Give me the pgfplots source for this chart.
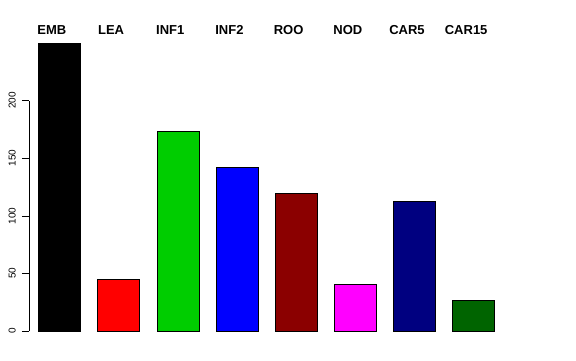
\documentclass[border=0pt]{standalone}
\usepackage{fontspec}
\setmainfont{Liberation Sans}
\usepackage{pgfplots}
\pgfplotsset{compat=1.18}
\definecolor{rgreen}{RGB}{0,205,0}
\definecolor{rdarkred}{RGB}{139,0,0}
\definecolor{rnavy}{RGB}{0,0,128}
\definecolor{rdarkgreen}{RGB}{0,100,0}
\definecolor{rmagenta}{RGB}{255,0,255}
\definecolor{rred}{RGB}{255,0,0}
\definecolor{rblue}{RGB}{0,0,255}
\begin{document}
\begin{tikzpicture}[x=1pt,y=1pt]
\useasboundingbox (0,0) rectangle (576,360);
\begin{axis}[
  at={(29pt,29pt)}, anchor=south west,
  scale only axis, width=503.9pt, height=230.4pt,
  xmin=0.4845, xmax=9, ymin=0, ymax=200,
  clip=false,
  axis x line=none, axis y line=left,
  axis line style={-, black, line width=0.6pt},
  ytick={0,50,100,150,200},
  tick align=outside, major tick length=7pt,
  tick style={black, line width=0.6pt},
  yticklabel style={xshift=-6pt, rotate=90, anchor=south, inner sep=0pt, font=\fontsize{10}{12}\selectfont},
  /pgf/number format/assume math mode=true,
  ybar, bar width=42pt, bar shift=0pt,
  every axis plot/.append style={draw=black, line width=0.5pt},
]
\addplot[fill=black] coordinates {(1,250)};
\addplot[fill=rred] coordinates {(2,45.3)};
\addplot[fill=rgreen] coordinates {(3,173.8)};
\addplot[fill=rblue] coordinates {(4,142.1)};
\addplot[fill=rdarkred] coordinates {(5,120)};
\addplot[fill=rmagenta] coordinates {(6,40.8)};
\addplot[fill=rnavy] coordinates {(7,112.5)};
\addplot[fill=rdarkgreen] coordinates {(8,26.6)};
\foreach \lab [count=\i] in {EMB,LEA,INF1,INF2,ROO,NOD,CAR5,CAR15} {
  \edef\tmp{\noexpand\node[anchor=base, inner sep=0pt, font=\noexpand\fontsize{13}{15}\noexpand\selectfont\noexpand\bfseries] at (axis cs:{\i-0.128},257.8) {\lab};}
  \tmp
}
\end{axis}
\end{tikzpicture}
\end{document}
